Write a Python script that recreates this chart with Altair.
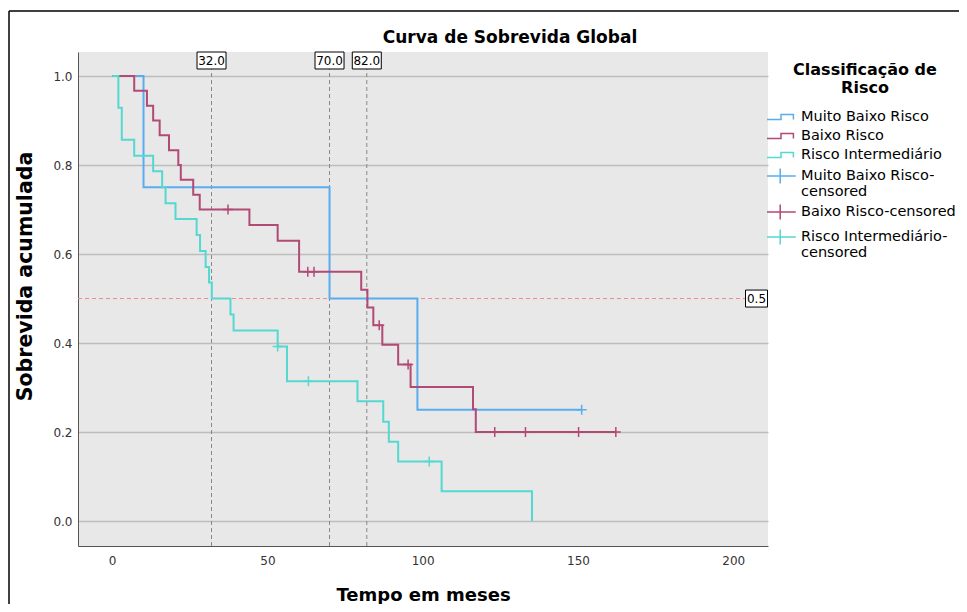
import altair as alt
import pandas as pd

FONT = "DejaVu Sans"

groups = ["Muito Baixo Risco", "Baixo Risco", "Risco Intermediário"]
censored_groups = ["Muito Baixo Risco-censored", "Baixo Risco-censored", "Risco Intermediário-censored"]
colors = ["#58adf0", "#b24a76", "#55d8d2"]

# Kaplan-Meier steps (time in months, cumulative survival)
mbr_t = [0, 10.1, 70.0, 98.3, 151.2]
mbr_s = [1.0, 0.75, 0.5, 0.25, 0.25]
br_t = [0, 7.1, 11.2, 13.2, 15.3, 18.3, 21.3, 22.1, 26.1, 28.2, 44.2, 53.3, 60.2,
        80.2, 82.2, 84.1, 87.0, 92.1, 96.1, 116.2, 117.1, 162.2]
br_s = [1.0, 0.967, 0.933, 0.900, 0.867, 0.833, 0.800, 0.767, 0.733, 0.700, 0.665, 0.630, 0.560,
        0.520, 0.480, 0.440, 0.396, 0.352, 0.301, 0.251, 0.200, 0.200]
ri_t = [0, 2.0, 3.1, 7.1, 13.2, 16.1, 17.2, 20.4, 27.2, 28.3, 30.1, 31.2, 32.1, 38.1, 39.1,
        53.3, 56.3, 79.0, 87.3, 89.1, 92.1, 106.1, 135.2]
ri_s = [1.0, 0.929, 0.857, 0.821, 0.786, 0.750, 0.714, 0.679, 0.643, 0.607, 0.571, 0.536, 0.500,
        0.464, 0.428, 0.392, 0.314, 0.269, 0.223, 0.178, 0.134, 0.067, 0.0]

# censored observations
mbr_ct = [151.2]
mbr_cs = [0.25]
br_ct = [37.3, 63.0, 65.0, 86.0, 95.3, 123.2, 133.1, 150.2, 162.2]
br_cs = [0.700, 0.560, 0.560, 0.440, 0.352, 0.200, 0.200, 0.200, 0.200]
ri_ct = [53.3, 63.2, 102.1]
ri_cs = [0.392, 0.314, 0.134]

medians = [32.0, 70.0, 82.0]
median_labels = ["32.0", "70.0", "82.0"]
ref_level = [0.5]
ref_label = ["0.5"]

x_ticks = [0, 50, 100, 150, 200]
y_ticks = [0.0, 0.2, 0.4, 0.6, 0.8, 1.0]

# ---------- tables ----------
line_tables = [pd.DataFrame({"t": ts, "s": ss}) for ts, ss in
               zip([mbr_t, br_t, ri_t], [mbr_s, br_s, ri_s])]
cens_tables = [pd.DataFrame({"t": ts, "s": ss}) for ts, ss in
               zip([mbr_ct, br_ct, ri_ct], [mbr_cs, br_cs, ri_cs])]

med_df = pd.DataFrame({"t": medians, "lab": median_labels})
ref_df = pd.DataFrame({"s": ref_level, "lab": ref_label})
legend_df = pd.DataFrame({"grp": groups + censored_groups})
one = pd.DataFrame({"k": [0]})

all_groups = groups + censored_groups
cscale = alt.Scale(domain=all_groups, range=colors + colors)

step_path = "M-2,0.3H-0.25V-0.3H1.3V0.3"
cross_path = "M-2,0H1.6M-0.35,-0.95V0.95"
plus_path = "M0,-1V1M-1,0H1"
box_med = "M-1,-0.586H1V0.586H-1Z"
box_ref = "M-1,-0.773H1V0.773H-1Z"

xs = alt.Scale(domain=[-11, 211.2], nice=False, zero=False)
ys = alt.Scale(domain=[-0.056, 1.054], nice=False, zero=False)
xaxis = alt.Axis(values=x_ticks, format="d", title="Tempo em meses", grid=False, ticks=False,
                 labelPadding=9, domainColor="#555555", labelColor="#333333", labelFontSize=12,
                 labelFont=FONT, titleFont=FONT, titleFontSize=18, titleFontWeight="bold",
                 titleColor="black", titleY=49, titleBaseline="middle")
yaxis = alt.Axis(values=y_ticks, format=".1f", title="Sobrevida acumulada", grid=True,
                 gridColor="#bdbdbd", gridWidth=1.5, ticks=False, labelPadding=6,
                 domainColor="#555555", labelColor="#333333", labelFontSize=12, labelFont=FONT,
                 titleFont=FONT, titleFontSize=20.5, titleFontWeight="bold", titleColor="black",
                 titleAngle=270, titleX=-53, titleY=224, titleBaseline="middle", titleAlign="center")


def X(f="t"):
    return alt.X(f + ":Q", scale=xs, axis=xaxis)


def Y(f="s"):
    return alt.Y(f + ":Q", scale=ys, axis=yaxis)


legend = alt.Legend(
    title=["Classificação de", "Risco"], orient="none", legendX=696, legendY=10,
    titleFont=FONT, titleFontSize=16, titleFontWeight="bold", titleColor="black",
    titleAnchor="middle", titleAlign="center", titleLineHeight=18, titlePadding=12,
    labelFont=FONT, labelFontSize=14.5, labelColor="black", labelOffset=9, labelLimit=300,
    symbolSize=256, symbolStrokeWidth=1.5, symbolOpacity=1, rowPadding=3, padding=0,
    labelExpr="datum.label == 'Muito Baixo Risco-censored' ? ['Muito Baixo Risco-', 'censored'] : "
              "(datum.label == 'Risco Intermediário-censored' ? ['Risco Intermediário-', 'censored'] : datum.label)",
)

frame_top = alt.Chart(one).mark_rule(color="black", strokeWidth=1.5).encode(
    x=alt.value(-69), x2=alt.value(900), y=alt.value(-41))
frame_left = alt.Chart(one).mark_rule(color="black", strokeWidth=1.5).encode(
    x=alt.value(-69), y=alt.value(-41), y2=alt.value(570))

med_rules = alt.Chart(med_df).mark_rule(color="#888888", strokeDash=[4, 3], strokeWidth=1).encode(x=X())
ref_rule = alt.Chart(ref_df).mark_rule(color="#f08a8a", strokeDash=[4, 3], strokeWidth=1).encode(y=Y())

km_lines = [
    alt.Chart(df).mark_line(interpolate="step-after", strokeWidth=2, color=c).encode(x=X(), y=Y())
    for df, c in zip(line_tables, colors)
]
cens = [
    alt.Chart(df).mark_point(shape=plus_path, size=100, filled=False, strokeWidth=1.5,
                             opacity=1, color=c).encode(x=X(), y=Y())
    for df, c in zip(cens_tables, colors)
]

med_box = alt.Chart(med_df).mark_point(shape=box_med, size=841, filled=True, fill="white",
                                       stroke="black", strokeWidth=1, opacity=1).encode(
    x=X(), y=alt.value(8.5))
med_text = alt.Chart(med_df).mark_text(font=FONT, fontSize=12, color="black", baseline="middle",
                                       align="center").encode(x=X(), y=alt.value(8.5), text="lab:N")

ref_box = alt.Chart(ref_df).mark_point(shape=box_ref, size=484, filled=True, fill="white",
                                       stroke="black", strokeWidth=1, opacity=1).encode(
    x=alt.value(678.5), y=Y())
ref_text = alt.Chart(ref_df).mark_text(font=FONT, fontSize=12, color="black", baseline="middle",
                                       align="center").encode(x=alt.value(678.5), y=Y(), text="lab:N")

title_text = alt.Chart(one).mark_text(text="Curva de Sobrevida Global", font=FONT, fontSize=17,
                                      fontWeight="bold", color="black", align="center",
                                      baseline="alphabetic").encode(x=alt.value(432), y=alt.value(-8.7))

legend_layer = alt.Chart(legend_df).mark_point(filled=False, opacity=0).encode(
    x=alt.value(0), y=alt.value(0),
    color=alt.Color("grp:N", scale=cscale, legend=legend),
    shape=alt.Shape("grp:N", scale=alt.Scale(domain=all_groups,
                                              range=[step_path] * 3 + [cross_path] * 3), legend=legend),
)

chart = alt.layer(
    med_rules, ref_rule, *km_lines, *cens, med_box, med_text, ref_box, ref_text,
    title_text, frame_top, frame_left, legend_layer,
).properties(
    width=690, height=494,
    autosize=alt.AutoSizeParams(type="none"),
    padding={"left": 70, "top": 44, "right": 191, "bottom": 58},
    background="white",
).configure(
    style={"guide-label": {"lineHeight": 15.5}}
).configure_view(stroke=None, fill="#e8e8e8")

chart.save("out.html", embed_options={"renderer": "svg", "actions": False})
